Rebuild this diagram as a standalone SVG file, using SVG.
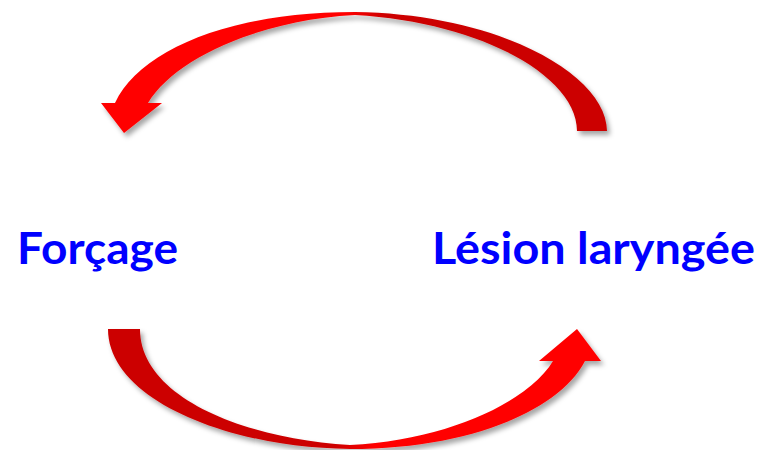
<svg xmlns="http://www.w3.org/2000/svg" width="759" height="450" viewBox="0 0 759 450">
  <style>
    .label { font-family: Lato, "Open Sans", "Liberation Sans", sans-serif; font-weight: bold; font-size: 43px; fill: #0000ff; }
  </style>
  <defs>
    <filter id="shadow" x="-10%" y="-10%" width="120%" height="130%">
      <feDropShadow dx="3" dy="4" stdDeviation="2.5" flood-color="#000" flood-opacity="0.35"/>
    </filter>
    <linearGradient id="gTop" x1="100" y1="0" x2="610" y2="0" gradientUnits="userSpaceOnUse">
      <stop offset="0" stop-color="#ff0000"/>
      <stop offset="0.48" stop-color="#ff0000"/>
      <stop offset="0.56" stop-color="#cc0000"/>
      <stop offset="1" stop-color="#cc0000"/>
    </linearGradient>
    <linearGradient id="gBot" x1="105" y1="0" x2="605" y2="0" gradientUnits="userSpaceOnUse">
      <stop offset="0" stop-color="#cc0000"/>
      <stop offset="0.46" stop-color="#cc0000"/>
      <stop offset="0.54" stop-color="#ff0000"/>
      <stop offset="1" stop-color="#ff0000"/>
    </linearGradient>
  </defs>
  <rect width="759" height="450" fill="#ffffff"/>
  <g id="connectors">
    <path id="arrow-top" filter="url(#shadow)" fill="url(#gTop)"
      d="M577,131 L607,131 C607,75 500,14 355,12 C230,12 140,50 115,103 L101,103 L124,133 L162,103 L148,103 C175,58 260,20 355,15 C480,22 577,76 577,131 Z"/>
    <path id="arrow-bottom" filter="url(#shadow)" fill="url(#gBot)"
      d="M108,329 L140,329 C140,396 240,438 350,445 C450,440 530,400 553,361 L539,361 L577,329 L601,361 L585,361 C560,410 470,449 350,449 C230,448 108,400 108,329 Z"/>
  </g>
  <g id="node-forcage">
    <text class="label" x="17" y="264" textLength="161" lengthAdjust="spacingAndGlyphs">Forçage</text>
  </g>
  <g id="node-lesion">
    <text class="label" x="432" y="264" textLength="323" lengthAdjust="spacingAndGlyphs">Lésion laryngée</text>
  </g>
</svg>
